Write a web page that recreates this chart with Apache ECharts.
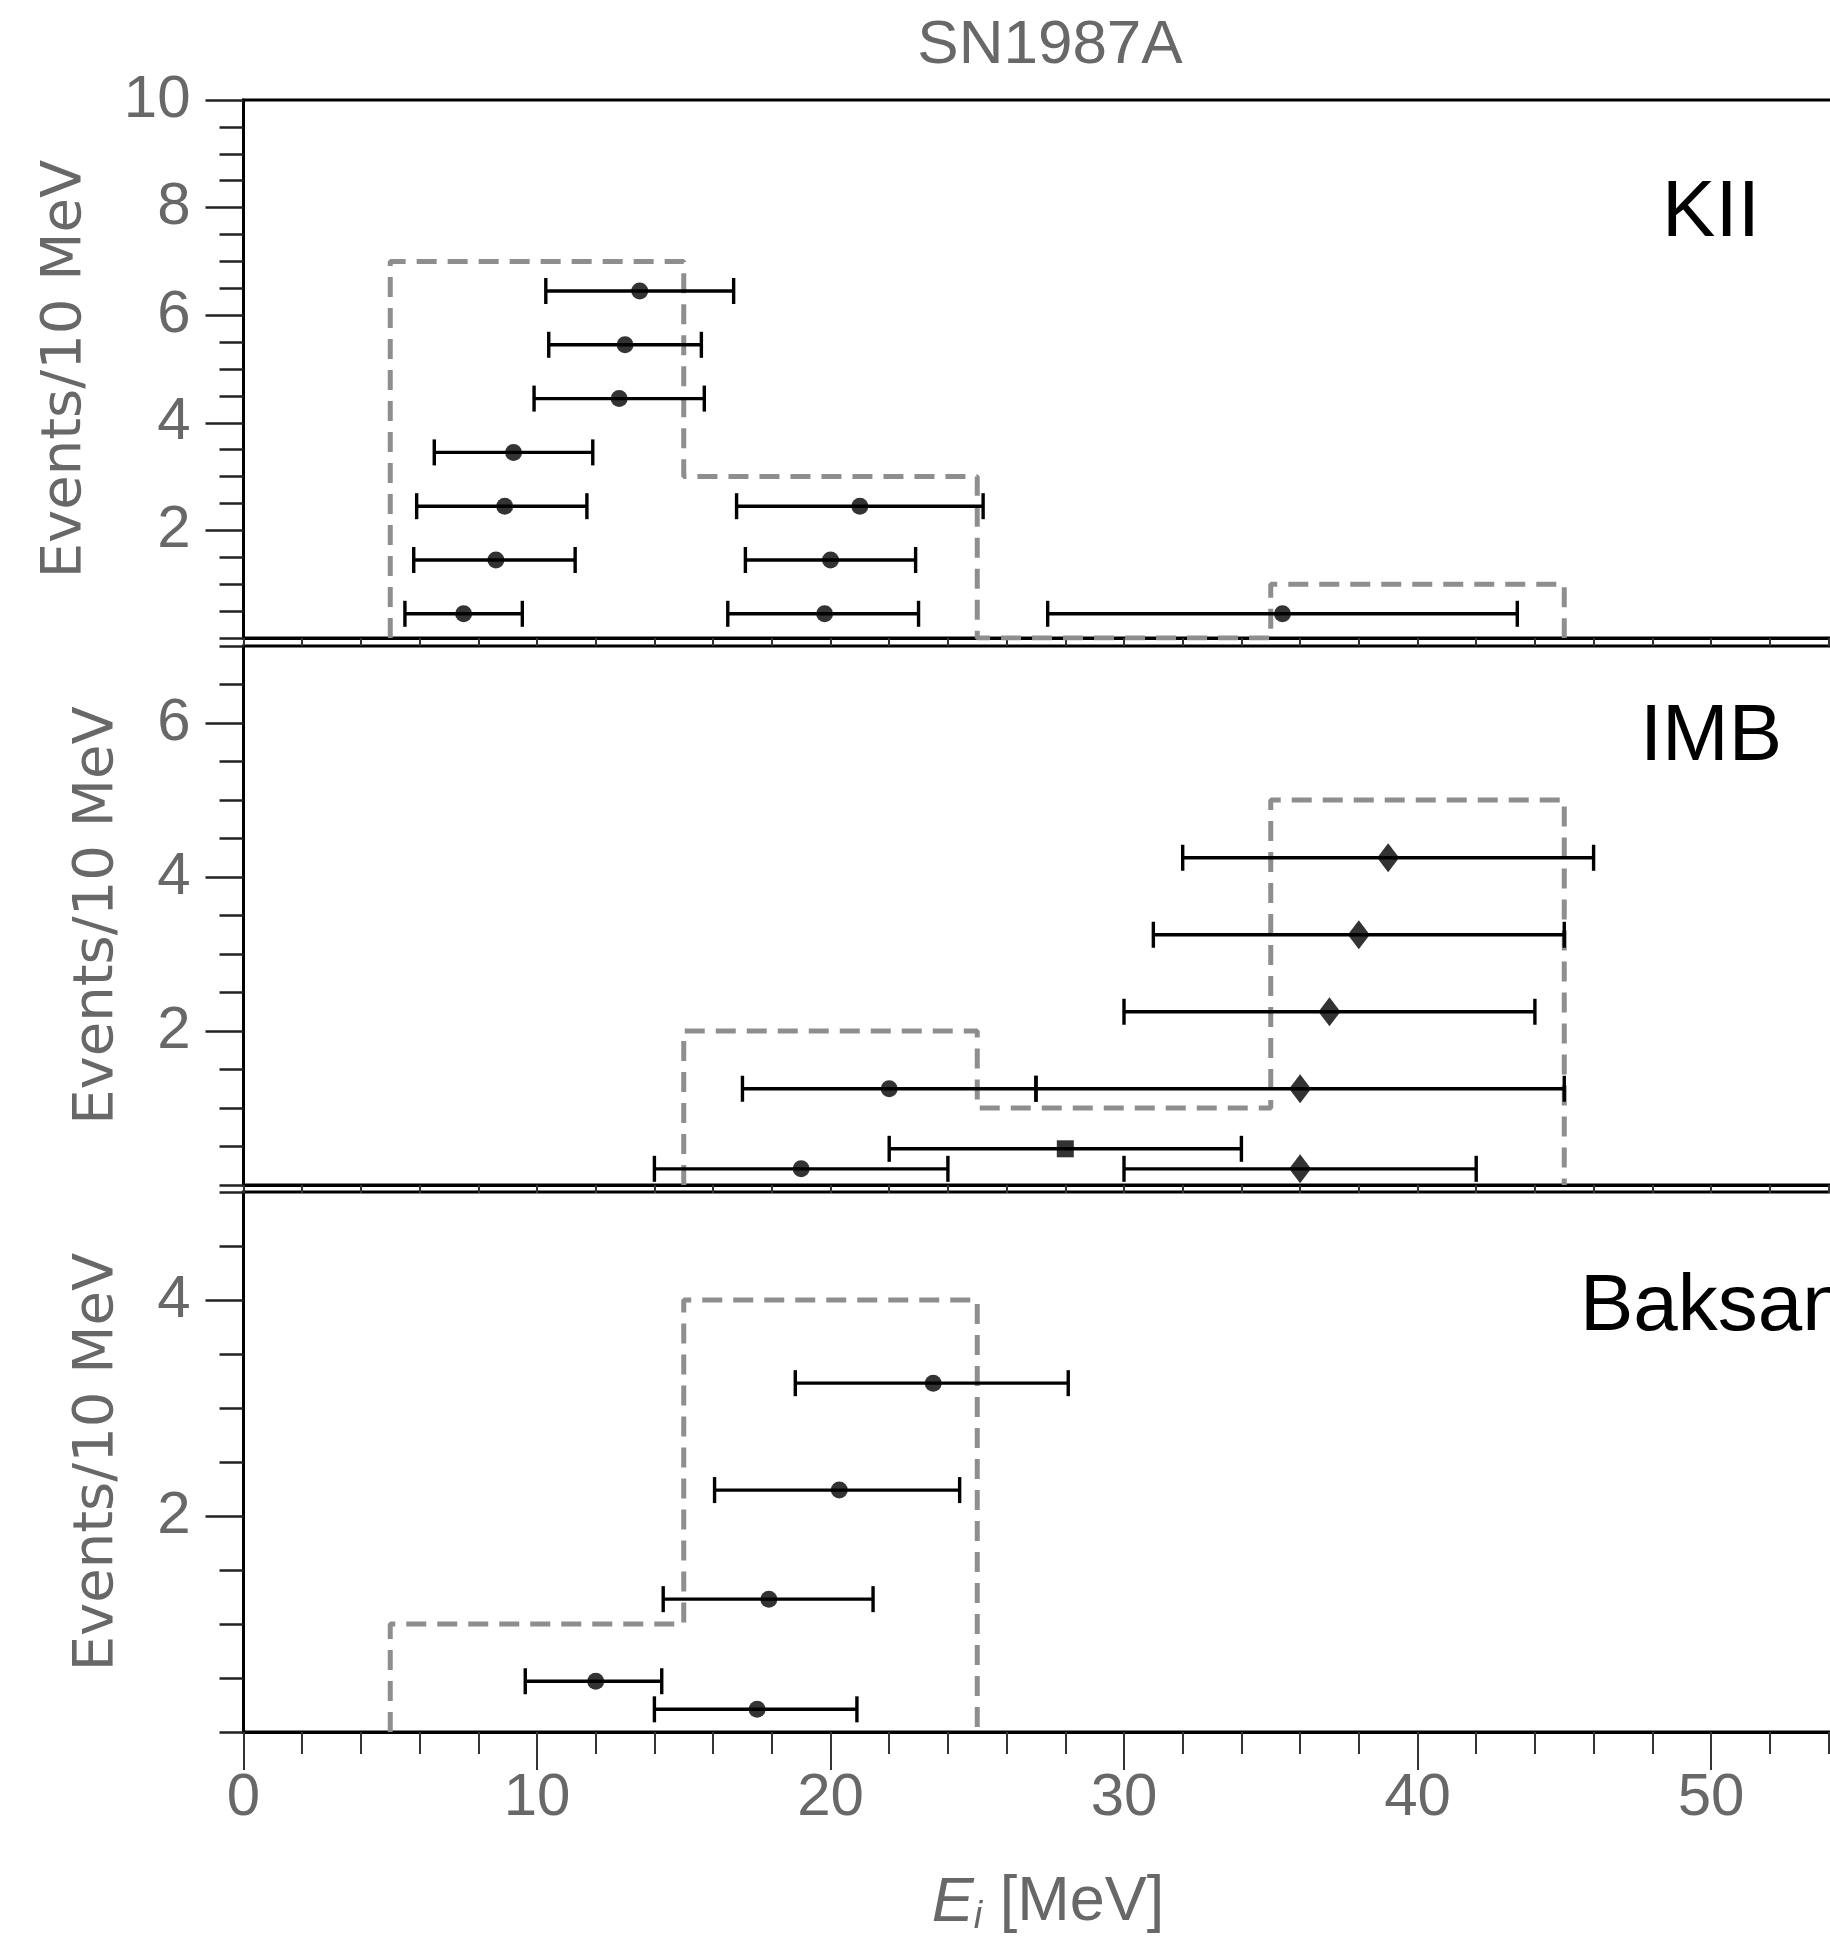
<!DOCTYPE html>
<html>
<head>
<meta charset="utf-8">
<script src="https://cdn.jsdelivr.net/npm/echarts@6/dist/echarts.min.js"></script>
<style>
html,body{margin:0;padding:0;background:#fff;}
#chart{width:1830px;height:1936px;}
</style>
</head>
<body>
<div id="chart"></div>
<script>
// ---------- data ----------
const title = 'SN1987A';
const panelNames = ['KII', 'IMB', 'Baksan'];
const yAxisName = 'Events/10 MeV';
const xTickLabels = [0, 10, 20, 30, 40, 50, 60];

// histogram bins (edges, counts)
const kiiEdges = [5, 15, 25, 35, 45];
const kiiCounts = [7, 3, 0, 1];
const imbEdges = [15, 25, 35, 45];
const imbCounts = [2, 1, 5];
const baksanEdges = [5, 15, 25];
const baksanCounts = [1, 4];

// events: energy, lower / upper error-bar ends, display row, marker kind (c=circle, d=diamond, s=square)
const kiiE   = [13.5, 13.0, 12.8, 9.2, 8.9, 21.0, 8.6, 20.0, 7.5, 19.8, 35.4];
const kiiLo  = [10.3, 10.4, 9.9, 6.5, 5.9, 16.8, 5.8, 17.1, 5.5, 16.5, 27.4];
const kiiHi  = [16.7, 15.6, 15.7, 11.9, 11.7, 25.2, 11.3, 22.9, 9.5, 23.0, 43.4];
const kiiRow = [6.45, 5.45, 4.45, 3.45, 2.45, 2.45, 1.45, 1.45, 0.45, 0.45, 0.45];
const kiiKind = ['c','c','c','c','c','c','c','c','c','c','c'];

const imbE   = [39, 38, 37, 22, 36, 28, 19, 36];
const imbLo  = [32, 31, 30, 17, 27, 22, 14, 30];
const imbHi  = [46, 45, 44, 27, 45, 34, 24, 42];
const imbRow = [4.25, 3.25, 2.25, 1.25, 1.25, 0.47, 0.21, 0.21];
const imbKind = ['d','d','d','c','d','s','c','d'];

const bakE   = [23.5, 20.3, 17.9, 12.0, 17.5];
const bakLo  = [18.8, 16.05, 14.3, 9.6, 14.0];
const bakHi  = [28.1, 24.4, 21.45, 14.25, 20.9];
const bakRow = [3.23, 2.24, 1.23, 0.47, 0.21];
const bakKind = ['c','c','c','c','c'];

const yMax = [10, 7, 5];
const kiiTicks = [2, 4, 6, 8, 10];
const imbTicks = [2, 4, 6];
const bakTicks = [2, 4];

// ---------- chart ----------
const chart = echarts.init(document.getElementById('chart'), null, {renderer: 'canvas'});

const GRAY = '#686868';
const HIST = '#8e8e8e';
const gridLeft = 243.5, gridWidth = 1761;
const grids = [
  {top: 100, height: 538},
  {top: 646, height: 539},
  {top: 1192, height: 540}
].map(g => Object.assign({
  left: gridLeft, width: gridWidth, show: true, borderColor: '#000', borderWidth: 3,
  backgroundColor: 'transparent', containLabel: false, outerBoundsMode: 'none'
}, g));

function outline(edges, counts) {
  const pts = [[edges[0], 0]];
  for (let i = 0; i < counts.length; i++) {
    pts.push([edges[i], counts[i]]);
    pts.push([edges[i + 1], counts[i]]);
  }
  pts.push([edges[edges.length - 1], 0]);
  return pts;
}

const tickStyle = {color: '#222', width: 2.5};
const xAxes = [0, 1].map(i => ({
  gridIndex: i, type: 'value', min: 0, max: 60, interval: 2,
  axisLine: {show: true, lineStyle: {color: '#000', width: 3}},
  axisTick: {show: true, length: 8, lineStyle: {color: '#333', width: 2}},
  axisLabel: {show: false}, splitLine: {show: false}
}));
xAxes.push({
  gridIndex: 2, type: 'value', min: 0, max: 60, interval: 10,
  axisLine: {show: true, lineStyle: {color: '#000', width: 3}},
  axisTick: {show: true, length: 38, lineStyle: {color: '#333', width: 2}},
  minorTick: {show: true, splitNumber: 5, length: 22, lineStyle: {color: '#333', width: 2}},
  axisLabel: {show: true, fontSize: 60, fontFamily: 'Liberation Sans', color: GRAY, margin: 36,
    formatter: v => (xTickLabels.indexOf(v) >= 0 ? String(v) : '')},
  splitLine: {show: false}, minorSplitLine: {show: false}
});

const tickSets = [kiiTicks, imbTicks, bakTicks];
const nameGaps = [150, 118, 118];
const yAxes = [];
for (let i = 0; i < 3; i++) {
  yAxes.push({
    gridIndex: i, type: 'value', min: 0, max: yMax[i], position: 'left',
    axisLine: {show: true, lineStyle: {color: '#000', width: 3}},
    axisTick: {show: true, length: 38, customValues: tickSets[i], lineStyle: tickStyle},
    axisLabel: {show: true, customValues: tickSets[i], fontSize: 60, fontFamily: 'Liberation Sans', color: GRAY, margin: 53},
    splitLine: {show: false},
    name: yAxisName, nameLocation: 'middle', nameGap: nameGaps[i],
    nameTextStyle: {fontSize: 56, fontFamily: 'DejaVu Sans', color: GRAY}
  });
  yAxes.push({
    gridIndex: i, type: 'value', min: 0, max: yMax[i], interval: 0.5, position: 'left', offset: 0,
    axisLine: {show: false},
    axisTick: {show: true, length: 24, lineStyle: tickStyle},
    axisLabel: {show: false}, splitLine: {show: false}
  });
}

const symbolOf = {c: 'circle', d: 'diamond', s: 'rect'};
const sizeOf = {c: 17, d: [22, 29], s: 17};

function errorBarSeries(p, lo, hi, row) {
  return {
    type: 'custom', xAxisIndex: p, yAxisIndex: 2 * p, z: 3, silent: true, animation: false,
    data: lo.map((l, k) => [l, hi[k], row[k]]),
    encode: {x: [0, 1], y: 2},
    renderItem: function (params, api) {
      const a = api.coord([api.value(0), api.value(2)]);
      const b = api.coord([api.value(1), api.value(2)]);
      const h = 13;
      const st = {stroke: '#000', lineWidth: 3.4};
      return {type: 'group', children: [
        {type: 'line', shape: {x1: a[0], y1: a[1], x2: b[0], y2: b[1]}, style: st},
        {type: 'line', shape: {x1: a[0], y1: a[1] - h, x2: a[0], y2: a[1] + h}, style: st},
        {type: 'line', shape: {x1: b[0], y1: b[1] - h, x2: b[0], y2: b[1] + h}, style: st}
      ]};
    }
  };
}
function markerSeries(p, e, row, kind) {
  return {
    type: 'scatter', xAxisIndex: p, yAxisIndex: 2 * p, z: 4, silent: true, animation: false,
    data: e.map((v, k) => ({value: [v, row[k]], symbol: symbolOf[kind[k]], symbolSize: sizeOf[kind[k]]})),
    itemStyle: {color: '#000'}
  };
}
function histSeries(p, edges, counts) {
  return {
    type: 'line', xAxisIndex: p, yAxisIndex: 2 * p, z: 2, silent: true, animation: false,
    data: outline(edges, counts), showSymbol: false, symbol: 'none',
    lineStyle: {color: HIST, width: 5, type: [20, 11], cap: 'butt'}
  };
}

const series = [
  histSeries(0, kiiEdges, kiiCounts),
  histSeries(1, imbEdges, imbCounts),
  histSeries(2, baksanEdges, baksanCounts),
  errorBarSeries(0, kiiLo, kiiHi, kiiRow),
  errorBarSeries(1, imbLo, imbHi, imbRow),
  errorBarSeries(2, bakLo, bakHi, bakRow),
  markerSeries(0, kiiE, kiiRow, kiiKind),
  markerSeries(1, imbE, imbRow, imbKind),
  markerSeries(2, bakE, bakRow, bakKind)
];

const graphic = [
  {type: 'text', x: 1050, y: 46, style: {text: title, fontSize: 62, fontFamily: 'Liberation Sans', fill: GRAY, align: 'center', verticalAlign: 'middle'}},
  {type: 'text', x: 1711, y: 214, style: {text: panelNames[0], fontSize: 80, fontFamily: 'Liberation Sans', fill: '#000', align: 'center', verticalAlign: 'middle'}},
  {type: 'text', x: 1711, y: 738, style: {text: panelNames[1], fontSize: 80, fontFamily: 'Liberation Sans', fill: '#000', align: 'center', verticalAlign: 'middle'}},
  {type: 'text', x: 1580, y: 1308, style: {text: panelNames[2], fontSize: 80, fontFamily: 'Liberation Sans', fill: '#000', align: 'left', verticalAlign: 'middle'}},
  {type: 'text', x: 1048, y: 1903, style: {
    text: '{e|E}{i|i}{r| [MeV]}', fill: GRAY, align: 'center', verticalAlign: 'middle',
    fontSize: 63, fontFamily: 'Liberation Sans',
    rich: {
      e: {fontSize: 63, fontStyle: 'italic', fontFamily: 'Liberation Sans', fill: GRAY, lineHeight: 66},
      i: {fontSize: 38, fontStyle: 'italic', fontFamily: 'Liberation Sans', fill: GRAY, lineHeight: 20, verticalAlign: 'bottom'},
      r: {fontSize: 63, fontFamily: 'Liberation Sans', fill: GRAY, lineHeight: 66}
    }
  }}
];

chart.setOption({
  backgroundColor: '#fff',
  animation: false,
  grid: grids,
  xAxis: xAxes,
  yAxis: yAxes,
  series: series,
  graphic: graphic
});
</script>
</body>
</html>
